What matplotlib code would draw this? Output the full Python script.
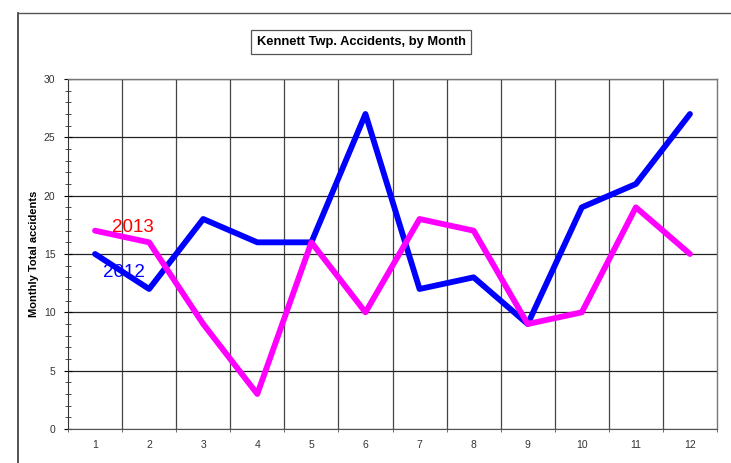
import matplotlib
matplotlib.use('Agg')
import matplotlib.pyplot as plt
from matplotlib.ticker import MultipleLocator

plt.rcParams['font.family'] = ['Liberation Sans', 'DejaVu Sans']

# Data
months = [1, 2, 3, 4, 5, 6, 7, 8, 9, 10, 11, 12]
acc_2012 = [15, 12, 18, 16, 16, 27, 12, 13, 9, 19, 21, 27]
acc_2013 = [17, 16, 9, 3, 16, 10, 18, 17, 9, 10, 19, 15]

W, H = 731, 463
fig = plt.figure(figsize=(W / 100, H / 100), dpi=100)

# outer chart border (only top and left visible in the crop)
fig.add_artist(plt.Line2D([18 / W, 18 / W], [0, 1 - 13 / H], color='#333333', lw=1.2))
fig.add_artist(plt.Line2D([18 / W, 1], [1 - 13 / H, 1 - 13 / H], color='#555555', lw=1.0))

left, right, top, bottom = 68, 717, 79, 429
ax = fig.add_axes([left / W, 1 - bottom / H, (right - left) / W, (bottom - top) / H])

ax.plot(months, acc_2012, color='#0000ff', lw=4.2, solid_capstyle='round', zorder=3)
ax.plot(months, acc_2013, color='#ff00ff', lw=4.2, solid_capstyle='round', zorder=3)

ax.set_xlim(0.5, 12.5)
ax.set_ylim(0, 30)

# vertical gridlines at category boundaries
bounds = [m + 0.5 for m in months[:-1]]
for b in bounds:
    ax.axvline(b, color='#444444', lw=0.9, zorder=1)
ax.set_xticks(months)
ax.set_xticks([0.5] + bounds + [12.5], minor=True)
ax.tick_params(axis='x', which='major', length=0, labelsize=7.5, labelcolor='#333333', pad=8)
ax.tick_params(axis='x', which='minor', length=5, direction='inout', color='#555555')

ax.yaxis.set_major_locator(MultipleLocator(5))
ax.yaxis.set_minor_locator(MultipleLocator(1))
ax.grid(axis='y', which='major', color='#222222', lw=0.9, zorder=1)
ax.tick_params(axis='y', which='major', length=6, direction='inout', labelsize=7.5,
               labelcolor='#333333', pad=6)
ax.tick_params(axis='y', which='minor', length=5, direction='inout', color='#333333')

for side in ['top', 'right']:
    ax.spines[side].set_color('#777777')
    ax.spines[side].set_linewidth(1.0)
ax.spines['left'].set_color('#333333')
ax.spines['bottom'].set_color('#555555')

ax.set_ylabel('Monthly Total accidents', fontsize=8, fontweight='bold')
ax.yaxis.set_label_coords(-0.044, 0.5)

ax.text(1.70, 17.25, '2013', color='#ff0000', fontsize=13.5, ha='center', va='center')
ax.text(1.54, 13.4, '2012', color='#0000ff', fontsize=13.5, ha='center', va='center')

fig.text(361 / W, 1 - 42 / H, 'Kennett Twp. Accidents, by Month', fontsize=9.3,
         fontweight='bold', ha='center', va='center',
         bbox=dict(boxstyle='square,pad=0.45', facecolor='white', edgecolor='#555555', lw=0.9))

fig.savefig('out.png', dpi=100)
